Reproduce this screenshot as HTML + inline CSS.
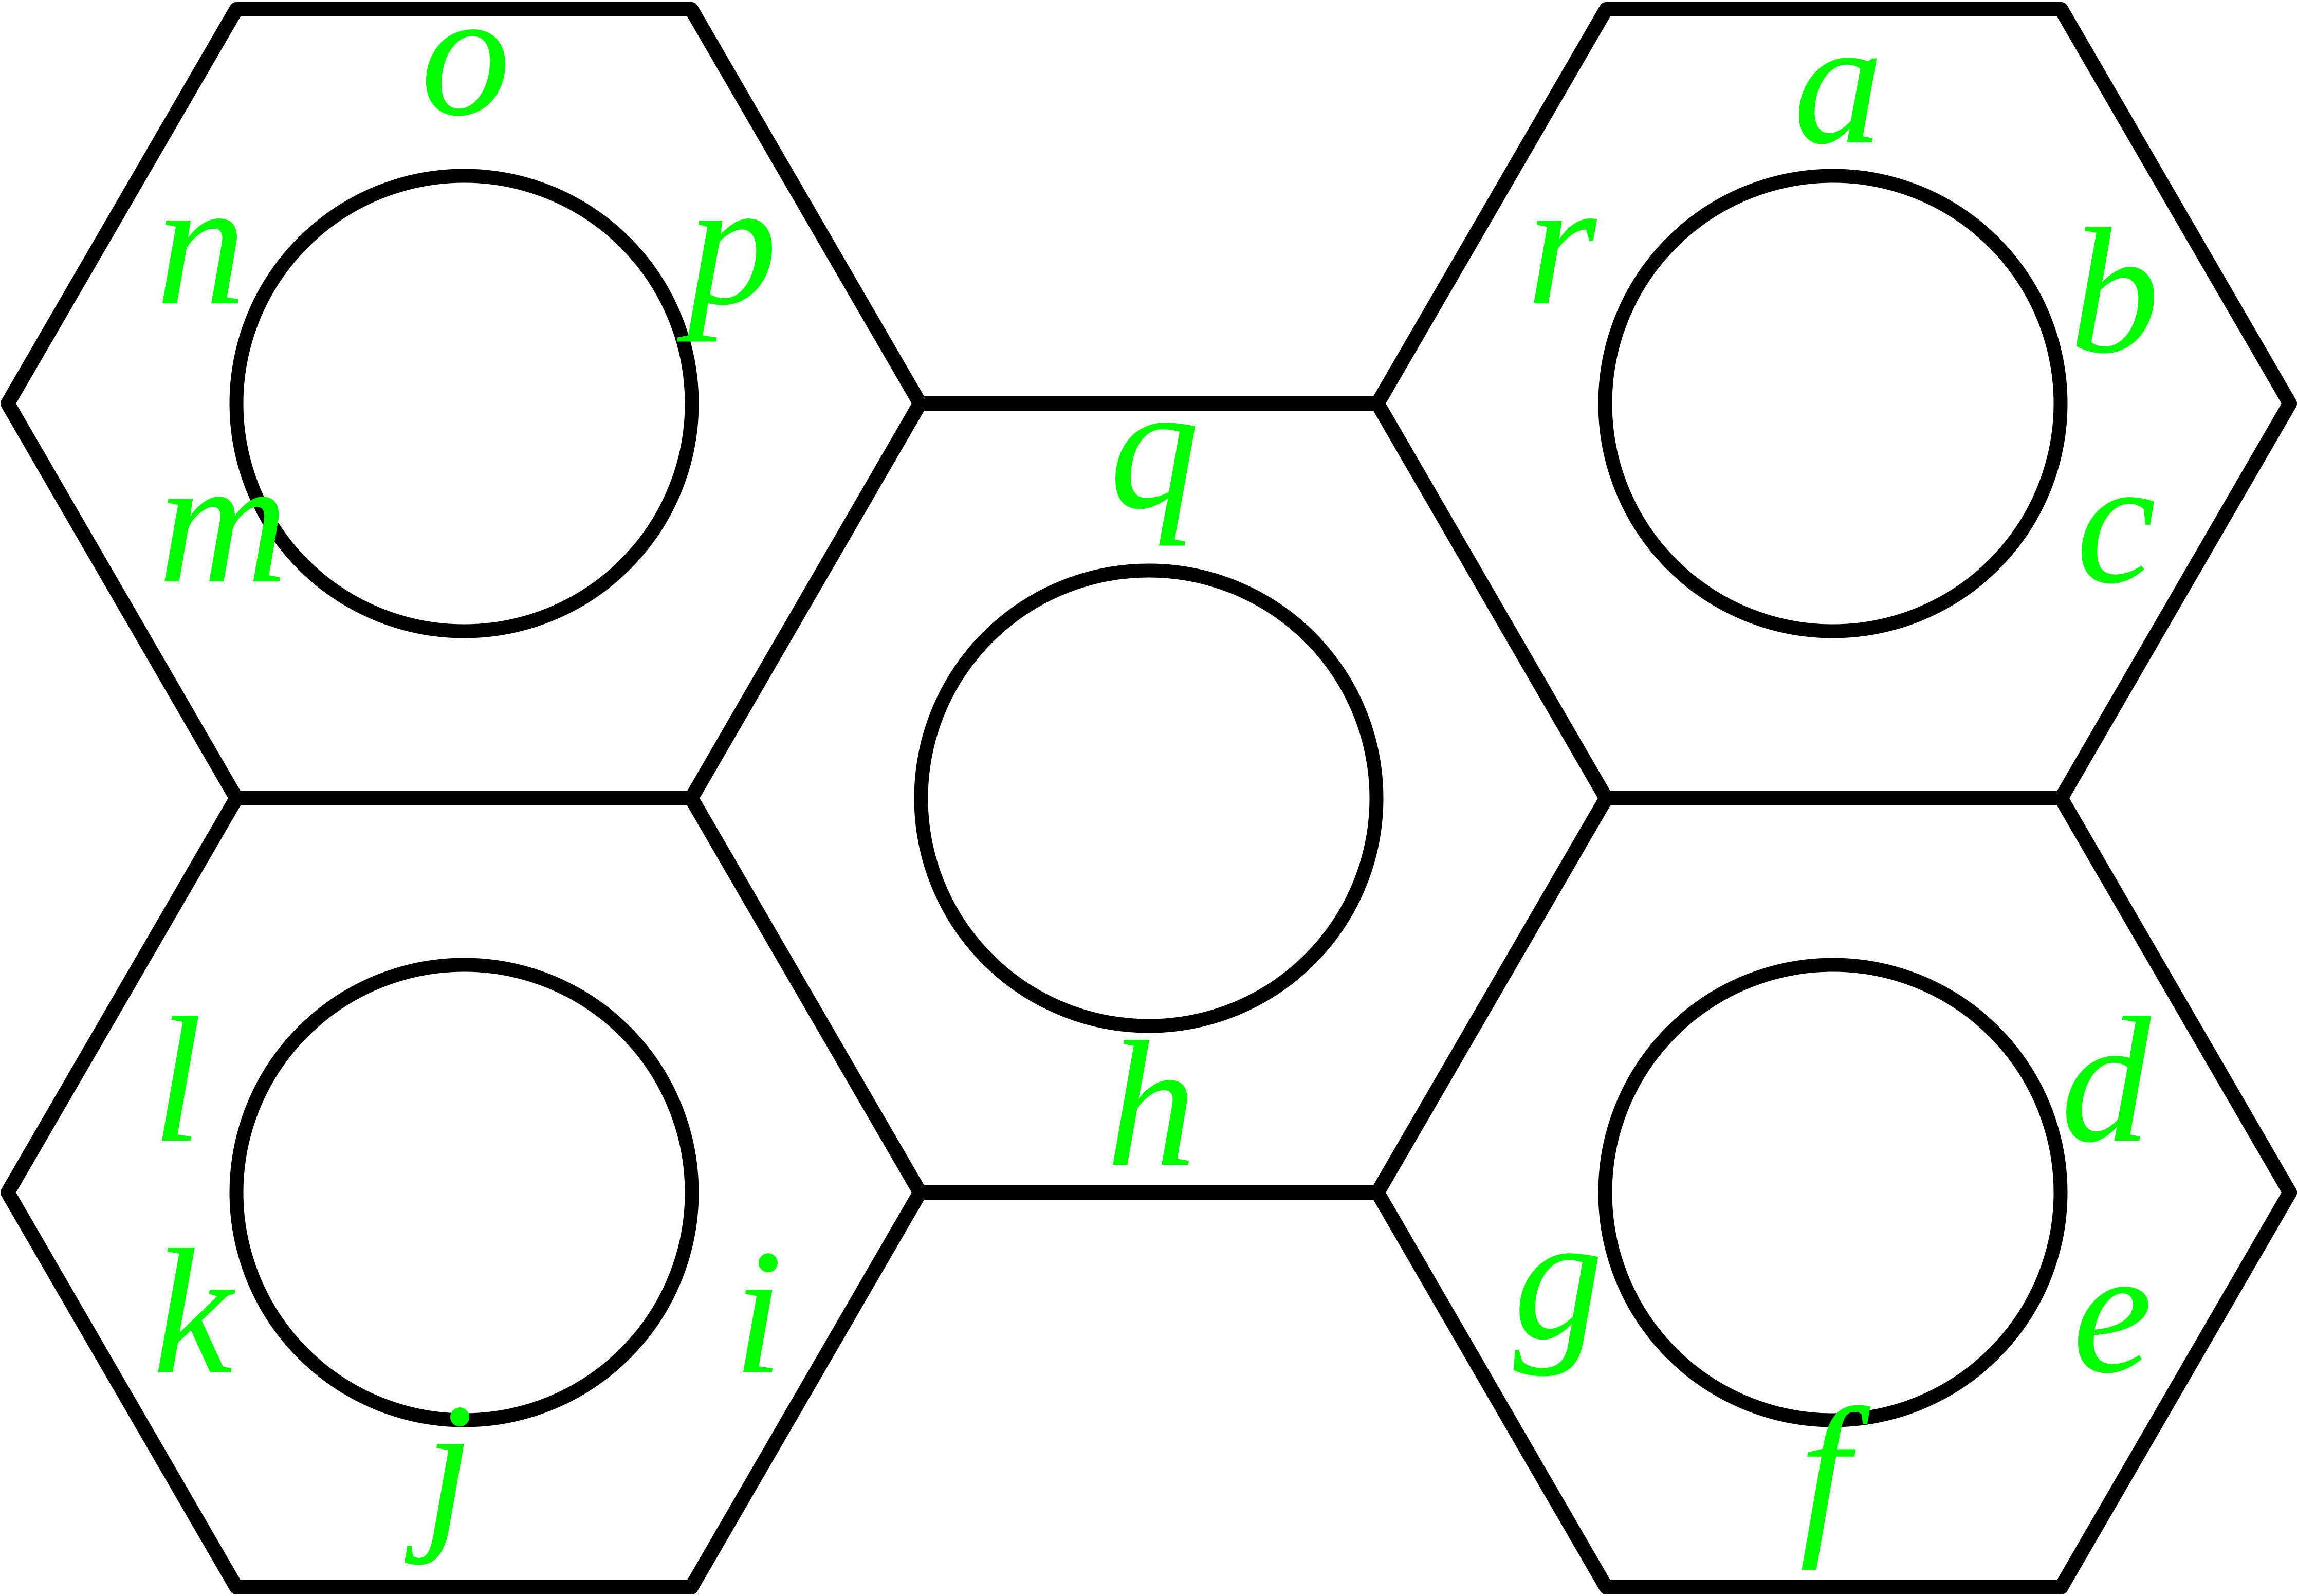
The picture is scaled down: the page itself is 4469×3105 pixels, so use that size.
<!DOCTYPE html>
<html><head><meta charset="utf-8"><style>html,body{margin:0;padding:0;background:#fff}svg{display:block}</style></head>
<body>
<svg width="4469" height="3105" viewBox="0 0 4469 3105" xmlns="http://www.w3.org/2000/svg">
<g fill="none" stroke="#000" stroke-width="28" stroke-linejoin="round">
<polygon points="460,18 1345,18 1790,785 1345,1553 460,1553 15,785"/>
<polygon points="1790,785 2680,785 3125,1553 2680,2320 1790,2320 1345,1553"/>
<polygon points="3125,18 4010,18 4455,785 4010,1553 3125,1553 2680,785"/>
<polygon points="460,1553 1345,1553 1790,2320 1345,3088 460,3088 15,2320"/>
<polygon points="3125,1553 4010,1553 4455,2320 4010,3088 3125,3088 2680,2320"/>
</g>
<g fill="none" stroke="#000" stroke-width="27">
<circle cx="903" cy="785" r="443"/>
<circle cx="3566" cy="785" r="443"/>
<circle cx="2235" cy="1553" r="443"/>
<circle cx="903" cy="2320" r="443"/>
<circle cx="3566" cy="2320" r="443"/>
</g>
<g fill="#00ff00" font-family="'Liberation Serif', serif" font-style="italic" font-size="350" text-anchor="middle">
<text x="906" y="222">o</text>
<text x="391" y="590">n</text>
<text x="1425" y="590">p</text>
<text x="434" y="1131">m</text>
<text x="2246" y="987">q</text>
<text x="3577" y="277">a</text>
<text x="3038" y="590">r</text>
<text x="4114" y="684">b</text>
<text x="4117" y="1132">c</text>
<text x="345" y="2219">l</text>
<text x="375" y="2670">k</text>
<text x="1475" y="2670">i</text>
<text x="873" y="2970">j</text>
<text x="2240" y="2266">h</text>
<text x="4097" y="2219">d</text>
<text x="3032" y="2603">g</text>
<text x="4110" y="2668">e</text>
<text x="3550" y="2980">f</text>
</g>
</svg>
</body></html>
